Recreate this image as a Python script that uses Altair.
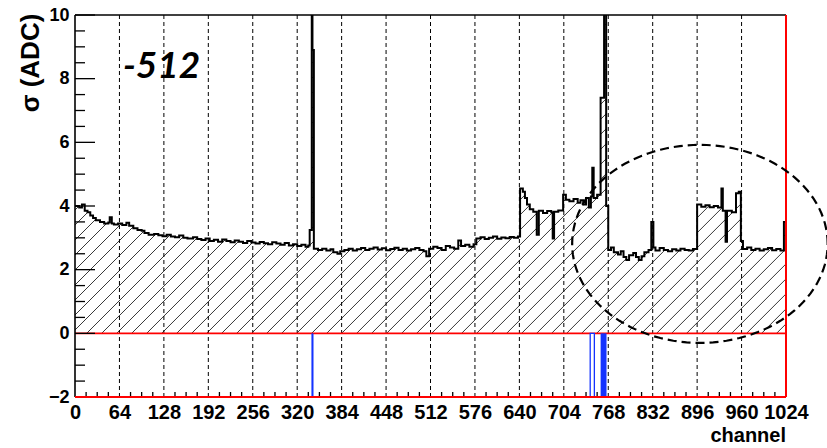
import altair as alt
import numpy as np
import pandas as pd

# Noise (sigma) per channel: left bin edges and the value held up to the next edge
edges = [0, 6, 10, 14, 18, 22, 26, 30, 36, 42, 48, 50, 53, 56, 62, 68, 74, 78, 84, 90,
         96, 100, 106, 114, 120, 126, 132, 138, 144, 150, 156, 162, 170, 176, 182, 188, 194, 200, 206, 212,
         218, 224, 230, 236, 242, 248, 254, 260, 266, 272, 278, 284, 290, 296, 302, 308, 314, 320, 326, 332,
         336, 338, 341, 342, 344, 350, 356, 362, 368, 372, 378, 382, 388, 394, 400, 406, 412, 418, 424, 430,
         436, 442, 448, 454, 460, 466, 472, 478, 484, 490, 496, 502, 506, 510, 516, 522, 528, 534, 540, 546,
         552, 556, 562, 568, 574, 578, 584, 590, 596, 602, 608, 614, 620, 626, 632, 638, 641, 645, 648, 651,
         655, 660, 665, 668, 674, 680, 686, 688, 690, 696, 703, 707, 712, 718, 724, 728, 732, 736, 740, 743,
         745, 747, 752, 757, 762, 765, 768, 772, 776, 782, 786, 790, 794, 798, 804, 808, 812, 816, 820, 826,
         830, 833, 836, 842, 848, 854, 860, 866, 872, 878, 884, 890, 896, 902, 908, 914, 920, 926, 931, 933,
         937, 939, 946, 952, 956, 959, 962, 968, 974, 980, 986, 992, 998, 1004, 1010, 1016, 1021]
sigma = [4.00, 3.95, 4.05, 3.85, 3.80, 3.70, 3.62, 3.55, 3.50, 3.45, 3.48, 3.65, 3.45, 3.42, 3.45, 3.40, 3.47, 3.38, 3.30, 3.25,
         3.22, 3.15, 3.10, 3.12, 3.08, 3.05, 3.10, 3.04, 3.02, 3.07, 3.00, 2.98, 3.02, 2.96, 2.93, 2.98, 2.90, 2.94, 2.88, 2.95,
         2.90, 2.86, 2.92, 2.88, 2.84, 2.90, 2.85, 2.82, 2.87, 2.83, 2.80, 2.86, 2.82, 2.78, 2.84, 2.76, 2.80, 2.74, 2.78, 2.72,
         2.76, 3.25, 10.5, 8.90, 2.66, 2.62, 2.66, 2.60, 2.64, 2.55, 2.50, 2.58, 2.62, 2.66, 2.60, 2.64, 2.68, 2.62, 2.66, 2.70,
         2.63, 2.67, 2.61, 2.65, 2.69, 2.62, 2.66, 2.60, 2.64, 2.68, 2.62, 2.58, 2.42, 2.66, 2.72, 2.68, 2.62, 2.74, 2.70, 2.66,
         2.92, 2.74, 2.78, 2.72, 2.80, 2.98, 3.02, 2.96, 3.00, 3.04, 2.97, 3.01, 2.99, 3.03, 3.00, 3.04, 4.55, 4.45, 4.25, 4.05,
         3.90, 3.82, 3.10, 3.85, 3.78, 3.84, 3.80, 2.98, 3.82, 3.86, 4.35, 4.20, 4.15, 4.22, 4.10, 4.18, 4.05, 4.25, 3.95, 4.30,
         5.20, 4.25, 4.35, 7.40, 10.5, 4.00, 2.62, 2.70, 2.55, 2.48, 2.58, 2.40, 2.30, 2.45, 2.52, 2.40, 2.30, 2.42, 2.55, 2.62,
         3.50, 2.70, 2.60, 2.68, 2.62, 2.58, 2.64, 2.60, 2.66, 2.62, 2.60, 2.65, 4.05, 3.98, 4.02, 3.96, 4.00, 3.95, 4.55, 3.85,
         2.88, 3.85, 3.80, 4.40, 4.45, 2.90, 2.65, 2.70, 2.62, 2.66, 2.60, 2.64, 2.68, 2.61, 2.65, 2.60, 3.50]

# Flagged (bad) channels, drawn from 0 down to -2
bad_solid_lo = [340.5, 757.0]
bad_solid_hi = [343.5, 765.5]
bad_open_lo = [742.0]
bad_open_hi = [748.0]

x_ticks = list(range(0, 1025, 64))
y_ticks = [-2, 0, 2, 4, 6, 8, 10]

W, H = 711, 382
X_MIN, X_MAX, Y_MIN, Y_MAX = 0, 1024, -2, 10
xs = alt.Scale(domain=[X_MIN, X_MAX], nice=False, zero=False)
ys = alt.Scale(domain=[Y_MIN, Y_MAX], nice=False, zero=False)

AX_X = alt.Axis(values=x_ticks, format="d", title=None, domain=False, ticks=False, tickSize=0, grid=False,
                labelFont="Liberation Sans", labelFontWeight="bold", labelFontSize=20,
                labelColor="black", labelPadding=5, labelOverlap=False, labelFlush=False)
AX_Y = alt.Axis(values=y_ticks, format="d", title=None, domain=False, ticks=False, tickSize=0, grid=False,
                labelFont="Liberation Sans", labelFontWeight="bold", labelFontSize=18,
                labelColor="black", labelPadding=6, labelBaseline="middle")

hist = pd.DataFrame({"channel": edges + [X_MAX], "sigma": sigma + [sigma[-1]], "top": 12.0})

# 45-degree hatching (in screen space) for the filled histogram body
slope = (W / (X_MAX - X_MIN)) / (H / (Y_MAX - Y_MIN))
run = 480.0
starts = np.arange(-run, X_MAX + 1, 21.6)
hatch = pd.DataFrame({"x": starts, "x2": starts + run, "y": 0.0, "y2": run * slope})

# dashed ellipse highlighting the upper channel range
ell_cx, ell_cy, ell_a, ell_b = 900.0, 2.81, 184.0, 3.11
t = np.linspace(0, 2 * np.pi, 121)
ellipse = pd.DataFrame({"i": np.arange(len(t)),
                        "x": ell_cx + ell_a * np.cos(t),
                        "y": ell_cy + ell_b * np.sin(t)})


def X(field):
    return alt.X(field, type="quantitative", scale=xs, axis=AX_X)


def Y(field):
    return alt.Y(field, type="quantitative", scale=ys, axis=AX_Y)


def hline(y, color, width):
    return alt.Chart(pd.DataFrame({"k": [0]})).mark_rule(color=color, strokeWidth=width).encode(
        x=alt.value(0), x2=alt.value(W), y=alt.value(y))


def vline(x, color, width):
    return alt.Chart(pd.DataFrame({"k": [0]})).mark_rule(color=color, strokeWidth=width).encode(
        y=alt.value(0), y2=alt.value(H), x=alt.value(x))


hatch_layer = alt.Chart(hatch).mark_rule(color="#222222", strokeWidth=0.9, clip=True).encode(
    x=X("x"), x2="x2", y=Y("y"), y2="y2")

# white cover above the histogram outline hides the hatching there
mask_layer = alt.Chart(hist).mark_area(color="white", interpolate="step-after", clip=True, opacity=1).encode(
    x=X("channel"), y=Y("sigma"), y2="top")

grid_layer = alt.Chart(pd.DataFrame({"c": x_ticks[1:-1]})).mark_rule(
    color="black", strokeWidth=1, strokeDash=[4, 3]).encode(
    x=X("c"), y=alt.value(0), y2=alt.value(H))

zero_layer = alt.Chart(pd.DataFrame({"z": [0]})).mark_rule(color="#ff0000", strokeWidth=1.6).encode(
    y=Y("z"), x=alt.value(0), x2=alt.value(W))

hist_layer = alt.Chart(hist).mark_line(color="black", strokeWidth=2, interpolate="step-after", clip=True).encode(
    x=X("channel"), y=Y("sigma"))

bad_solid = alt.Chart(pd.DataFrame({"lo": bad_solid_lo, "hi": bad_solid_hi, "top": 0, "bot": -2})).mark_rect(
    color="#1433ff").encode(x=X("lo"), x2="hi", y=Y("top"), y2="bot")
bad_open = alt.Chart(pd.DataFrame({"lo": bad_open_lo, "hi": bad_open_hi, "top": 0, "bot": -2})).mark_rect(
    fill="white", stroke="#1433ff", strokeWidth=1.3).encode(x=X("lo"), x2="hi", y=Y("top"), y2="bot")

y_major = alt.Chart(pd.DataFrame({"v": y_ticks})).mark_rule(color="black", strokeWidth=1.3).encode(
    y=Y("v"), x=alt.value(0), x2=alt.value(20))
y_minor = alt.Chart(pd.DataFrame({"v": [v + 0.5 * k for v in y_ticks[:-1] for k in (1, 2, 3)]})).mark_rule(
    color="black", strokeWidth=1.3).encode(y=Y("v"), x=alt.value(0), x2=alt.value(10))
x_minor = alt.Chart(pd.DataFrame({"c": [c for c in range(16, 1024, 16) if c % 64]})).mark_rule(
    color="black", strokeWidth=1.3).encode(x=X("c"), y=alt.value(H), y2=alt.value(H - 5))

frame_top = hline(0, "black", 1.6)
frame_left = vline(0, "black", 1.6)
frame_right = vline(W, "#ff0000", 2)
frame_bottom = hline(H, "#ff0000", 2)

ellipse_layer = alt.Chart(ellipse).mark_line(color="black", strokeWidth=2.2, strokeDash=[9, 5]).encode(
    x=X("x"), y=Y("y"), order="i:Q")

label_512 = alt.Chart(pd.DataFrame({"t": ["-512"]})).mark_text(
    font="Lato, Open Sans", fontSize=37, fontWeight="bold", fontStyle="italic",
    align="left", baseline="alphabetic", color="black").encode(
    text="t:N", x=alt.value(48), y=alt.value(63))

y_title = alt.Chart(pd.DataFrame({"t": ["σ (ADC)"]})).mark_text(
    font="Liberation Sans", fontSize=26, fontWeight="bold", angle=270,
    align="center", baseline="alphabetic", color="black").encode(
    text="t:N", x=alt.value(-36), y=alt.value(48))

x_title = alt.Chart(pd.DataFrame({"t": ["channel"]})).mark_text(
    font="Liberation Sans", fontSize=20, fontWeight="bold",
    align="right", baseline="alphabetic", color="black").encode(
    text="t:N", x=alt.value(W), y=alt.value(427))

chart = alt.layer(
    hatch_layer, mask_layer, grid_layer, zero_layer, hist_layer,
    bad_solid, bad_open, y_major, y_minor, x_minor,
    frame_top, frame_left, frame_right, frame_bottom,
    ellipse_layer, label_512, y_title, x_title,
).properties(
    width=W, height=H,
    padding={"left": 75, "top": 15, "right": 41, "bottom": 51},
    autosize=alt.AutoSizeParams(type="none"),
    background="white",
).configure_view(stroke=None)

chart.save("out.html", embed_options={"renderer": "svg", "actions": False})
